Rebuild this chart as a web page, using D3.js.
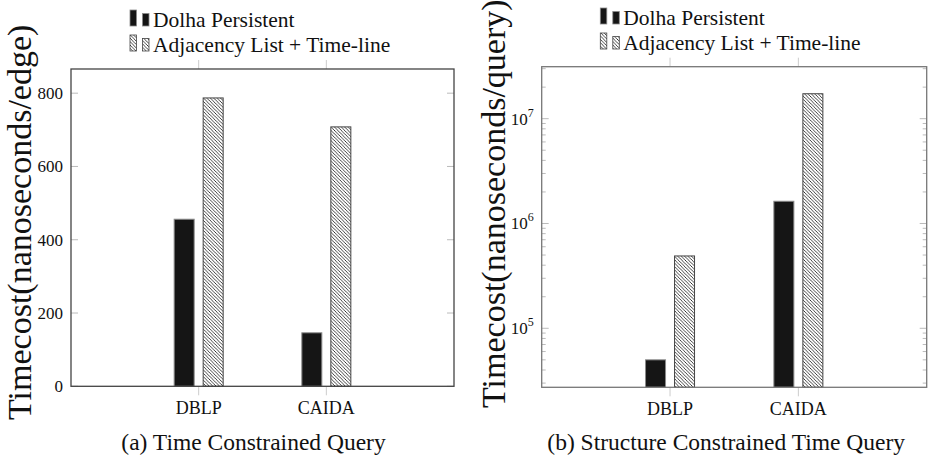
<!DOCTYPE html>
<html>
<head>
<meta charset="utf-8">
<script src="https://cdn.jsdelivr.net/npm/d3@7"></script>
<style>
  body { margin: 0; background: #fff; }
  svg text { font-family: "Times New Roman", Times, "Liberation Serif", "DejaVu Serif", serif; fill: #111; }
</style>
</head>
<body>
<svg id="chart" width="928" height="456" font-family="Liberation Serif, DejaVu Serif, serif"></svg>
<script>
const categories = ["DBLP", "CAIDA"];
const seriesNames = ["Dolha Persistent", "Adjacency List + Time-line"];
// (a) time constrained query, nanoseconds/edge
const timeDolha = [456, 146];
const timeAdj = [787, 708];
const timeTicks = [0, 200, 400, 600, 800];
// (b) structure constrained time query, nanoseconds/query
const structDolha = [5.0e4, 1.63e6];
const structAdj = [4.9e5, 1.73e7];
const structTicks = [1e5, 1e6, 1e7];

const svg = d3.select("#chart");

const defs = svg.append("defs");
defs.append("pattern")
    .attr("id", "hatch")
    .attr("patternUnits", "userSpaceOnUse")
    .attr("width", 3.4)
    .attr("height", 3.4)
    .call(p => {
        p.append("rect").attr("width", 3.4).attr("height", 3.4).attr("fill", "#fff");
        p.append("path")
            .attr("d", "M0,0L3.4,3.4M-1.7,1.7L1.7,5.1M1.7,-1.7L5.1,1.7")
            .attr("stroke", "#111")
            .attr("stroke-width", 0.8);
    });

function drawPanel(cfg) {
    const g = svg.append("g");
    const x = d3.scalePoint().domain(categories).range([cfg.left, cfg.right]).padding(1);
    const off = d3.scalePoint().domain(seriesNames).range([-14.5, 14.5]);
    const y = cfg.y;
    const barW = 20;

    // y ticks, inside on both sides
    g.selectAll("line.ytl").data(cfg.minor || []).join("line")
        .attr("x1", cfg.left).attr("x2", cfg.left + 4)
        .attr("y1", d => y(d)).attr("y2", d => y(d))
        .attr("stroke", "#bbb");
    g.selectAll("line.ytr").data(cfg.minor || []).join("line")
        .attr("x1", cfg.right).attr("x2", cfg.right - 4)
        .attr("y1", d => y(d)).attr("y2", d => y(d))
        .attr("stroke", "#bbb");
    cfg.ticks.forEach(t => {
        g.append("line").attr("x1", cfg.left).attr("x2", cfg.left + 7)
            .attr("y1", y(t)).attr("y2", y(t)).attr("stroke", "#bbb");
        g.append("line").attr("x1", cfg.right).attr("x2", cfg.right - 7)
            .attr("y1", y(t)).attr("y2", y(t)).attr("stroke", "#bbb");
    });

    // x ticks, outside top and bottom
    categories.forEach(c => {
        g.append("line").attr("x1", x(c)).attr("x2", x(c))
            .attr("y1", cfg.top - 9).attr("y2", cfg.top).attr("stroke", "#ccc");
        g.append("line").attr("x1", x(c)).attr("x2", x(c))
            .attr("y1", cfg.bottom).attr("y2", cfg.bottom + 9).attr("stroke", "#ccc");
    });

    // bars
    const series = [
        { name: seriesNames[0], values: cfg.a, fill: "#151515", stroke: "#8a8a8a" },
        { name: seriesNames[1], values: cfg.b, fill: "url(#hatch)", stroke: "#444" }
    ];
    series.forEach(s => {
        g.selectAll(null).data(categories).join("rect")
            .attr("x", (c) => x(c) + off(s.name) - barW / 2)
            .attr("width", barW)
            .attr("y", (c, i) => y(s.values[i]))
            .attr("height", (c, i) => cfg.bottom - y(s.values[i]))
            .attr("fill", s.fill)
            .attr("stroke", s.stroke)
            .attr("stroke-width", 1);
    });

    // frame
    g.append("rect")
        .attr("x", cfg.left).attr("y", cfg.top)
        .attr("width", cfg.right - cfg.left).attr("height", cfg.bottom - cfg.top)
        .attr("fill", "none").attr("stroke", cfg.frame).attr("stroke-width", 1.3);

    // tick labels
    cfg.ticks.forEach(t => {
        const tx = g.append("text")
            .attr("x", cfg.left - 8).attr("y", y(t) + 6)
            .attr("text-anchor", "end")
            .attr("font-size", 17);
        if (cfg.log) {
            tx.append("tspan").text("10");
            tx.append("tspan").attr("dy", -8).attr("font-size", 12).text(Math.round(Math.log10(t)));
        } else {
            tx.text(t);
        }
    });
    g.selectAll("text.xl").data(categories).join("text")
        .attr("x", c => x(c)).attr("y", cfg.bottom + 28)
        .attr("text-anchor", "middle")
        .attr("font-size", 18)
        .text(c => c);

    // y label
    g.append("text")
        .attr("transform", `translate(${cfg.labelX},${cfg.labelY}) rotate(-90)`)
        .attr("font-size", 34)
        .text(cfg.yLabel);

    // caption
    g.append("text")
        .attr("x", (cfg.left + cfg.right) / 2 + cfg.capShift).attr("y", 450)
        .attr("text-anchor", "middle")
        .attr("font-size", 23.5)
        .text(cfg.caption);

    // legend
    series.forEach((s, i) => {
        const ly = cfg.legendY + i * 25;
        g.append("rect").attr("x", cfg.legendX - 23).attr("y", ly - 17)
            .attr("width", 6.5).attr("height", 16)
            .attr("fill", s.fill).attr("stroke", s.stroke).attr("stroke-width", 0.8);
        g.append("rect").attr("x", cfg.legendX - 10.5).attr("y", ly - 13.5)
            .attr("width", 6.5).attr("height", 12.5)
            .attr("fill", s.fill).attr("stroke", s.stroke).attr("stroke-width", 0.8);
        g.append("text").attr("x", cfg.legendX).attr("y", ly)
            .attr("font-size", 21.5)
            .text(s.name);
    });
}

drawPanel({
    left: 71, right: 454, top: 69, bottom: 386.3,
    y: d3.scaleLinear().domain([0, 866]).range([386.3, 69]),
    ticks: timeTicks,
    a: timeDolha, b: timeAdj,
    frame: "#444",
    yLabel: "Timecost(nanoseconds/edge)",
    labelX: 31, labelY: 420,
    caption: "(a) Time Constrained Query", capShift: -9,
    legendX: 153, legendY: 27
});

const logY = d3.scaleLog().domain([Math.pow(10, 4.437), Math.pow(10, 7.496)]).range([387.3, 66.7]);
const minorTicks = [];
[1e4, 1e5, 1e6, 1e7].forEach(dec => {
    for (let k = 2; k <= 9; k++) {
        const v = k * dec;
        if (v > logY.domain()[0] && v < logY.domain()[1]) minorTicks.push(v);
    }
});

drawPanel({
    left: 541.7, right: 926.7, top: 66.7, bottom: 387.3,
    y: logY,
    log: true,
    minor: minorTicks,
    ticks: structTicks,
    a: structDolha, b: structAdj,
    frame: "#777",
    yLabel: "Timecost(nanoseconds/query)",
    labelX: 505, labelY: 408,
    caption: "(b) Structure Constrained Time Query", capShift: -8,
    legendX: 623.3, legendY: 25
});
</script>
</body>
</html>
